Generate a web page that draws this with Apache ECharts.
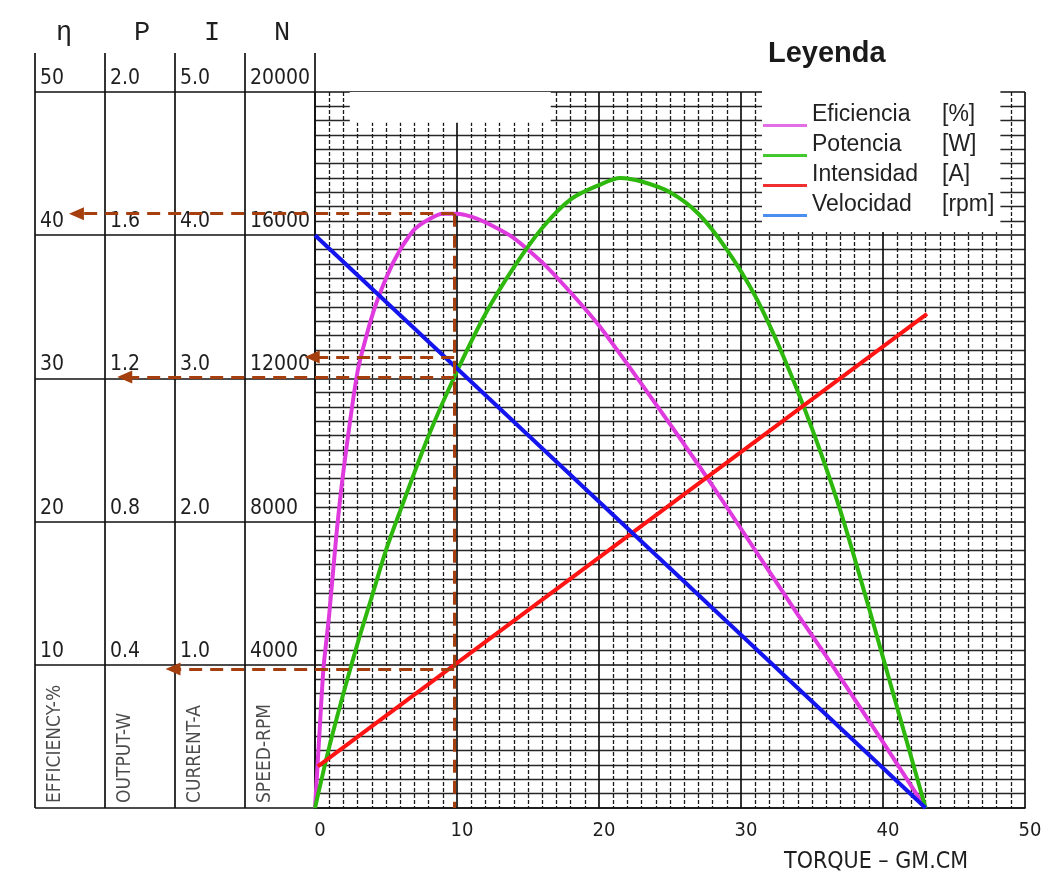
<!DOCTYPE html>
<html>
<head>
<meta charset="utf-8">
<title>Curvas del motor</title>
<script src="https://cdn.jsdelivr.net/npm/echarts@6/dist/echarts.min.js"></script>
<style>
html, body { margin: 0; padding: 0; background: #fff; }
#chart { width: 1053px; height: 877px; }
</style>
</head>
<body>
<div id="chart"></div>
<script>
// par (gm.cm) y lecturas de cada curva
const effTorque = [0, 0.3, 0.6, 1, 1.5, 2, 3, 4, 5, 6, 7, 8, 9, 10, 11, 12, 14, 16, 18, 20, 22, 24, 26, 28, 30, 32, 34, 36, 38, 40, 41.5, 43]
const effValues = [0, 5, 9.8, 13.5, 19, 23.5, 30.5, 34.3, 37.0, 39.0, 40.4, 41.1, 41.5, 41.5, 41.3, 40.9, 39.8, 38.1, 36.0, 33.7, 31.0, 28.2, 25.4, 22.5, 19.5, 16.5, 13.5, 10.6, 7.6, 4.6, 2.3, 0]
const powerTorque = [0, 1, 2, 3, 4, 5, 6, 8, 10, 12, 14, 16, 18, 20, 21.5, 23, 25, 27, 29, 31, 33, 35, 37, 39, 41, 43]
const powerValues = [0, 0.17, 0.32, 0.46, 0.59, 0.72, 0.83, 1.04, 1.22, 1.38, 1.51, 1.62, 1.70, 1.74, 1.76, 1.75, 1.72, 1.66, 1.56, 1.43, 1.26, 1.06, 0.83, 0.56, 0.28, 0]
const currentTorque = [0.2, 43.1]
const currentValues = [0.29, 3.45]
const speedTorque = [0, 43]
const speedValues = [16000, 0]

const seriesNames = ['Eficiencia', 'Potencia', 'Intensidad', 'Velocidad']
const seriesUnits = ['[%]', '[W]', '[A]', '[rpm]']
const columnSymbols = ['η', 'P', 'I', 'N']
const columnUnits = ['EFFICIENCY-%', 'OUTPUT-W', 'CURRENT-A', 'SPEED-RPM']
const effTicks = ['10', '20', '30', '40', '50']
const powerTicks = ['0.4', '0.8', '1.2', '1.6', '2.0']
const currentTicks = ['1.0', '2.0', '3.0', '4.0', '5.0']
const speedTicks = ['4000', '8000', '12000', '16000', '20000']
const torqueTicks = ['0', '10', '20', '30', '40', '50']

// punto de trabajo y flechas hacia la tabla (escala de eficiencia)
const workTorque = 9.8
const guideLevels = [41.5, 31.5, 30.1, 9.7]
const guideTips = [-16.8, -0.2, -13.4, -10.0]

const curveColors = ['#de3ade', '#2eb80e', '#ff1414', '#1414ee']
const legendColors = ['#e46ee4', '#44c830', '#f03030', '#4a8ff0']
const ink = '#1e1e1e'
const tableFont = 'DejaVu Sans Condensed'

function pairs (xs, ys) {
    return xs.map((x, i) => [x, ys[i]])
}

// ejes de la tabla de la izquierda (uno por columna)
function sideAxis (i, max, interval, ticks) {
    return {
        gridIndex: 0,
        type: 'value',
        min: 0,
        max: max,
        interval: interval,
        position: 'left',
        offset: 280 - i * 70,
        name: columnSymbols[i],
        nameLocation: 'end',
        nameGap: 46,
        nameMoveOverlap: false,
        nameTextStyle: {
            fontFamily: 'Liberation Mono',
            fontSize: 27,
            color: ink,
            padding: [0, 0, 0, i === 0 ? 58 : 74]
        },
        axisLine: { show: false, onZero: false },
        axisTick: { show: false },
        splitLine: { show: false },
        axisLabel: {
            inside: true,
            margin: 5,
            showMinLabel: false,
            verticalAlign: 'bottom',
            padding: [0, 0, 3, 0],
            fontFamily: tableFont,
            fontSize: 21,
            color: ink,
            formatter: (v, idx) => ticks[idx - 1] || ''
        }
    }
}

const chart = echarts.init(document.getElementById('chart'))

const effAxis = sideAxis(0, 50, 10, effTicks)
// la escala de eficiencia lleva la cuadricula del grafico
effAxis.splitLine = { show: true, lineStyle: { color: '#111', width: 1.7 } }
effAxis.minorTick = { show: false, splitNumber: 10 }
effAxis.minorSplitLine = { show: true, lineStyle: { color: '#262626', width: 1.3 } }

chart.setOption({
    animation: false,
    backgroundColor: '#fff',
    title: [{
        text: 'Leyenda',
        left: 763,
        top: 34,
        textStyle: { fontFamily: 'Liberation Sans', fontSize: 29, fontWeight: 'bold', color: '#1a1a1a' }
    }, {
        text: 'TORQUE – GM.CM',
        left: 779,
        top: 846,
        textStyle: { fontFamily: 'Liberation Sans Narrow, DejaVu Sans Condensed', fontSize: 23, fontWeight: 'normal', color: ink }
    }],
    legend: {
        orient: 'vertical',
        left: 762,
        top: 88,
        padding: [15, 6, 15, 1],
        backgroundColor: '#fff',
        itemWidth: 44,
        itemHeight: 24,
        itemGap: 6,
        icon: 'path://M0,0L0,0M0,21L44,21L44,24L0,24Z',
        data: seriesNames.map((n, i) => ({ name: n, itemStyle: { color: legendColors[i] } })),
        formatter: name => '{n|' + name + '}{u|' + seriesUnits[seriesNames.indexOf(name)] + '}',
        textStyle: {
            rich: {
                n: { width: 130, fontFamily: 'Liberation Sans', fontSize: 23, lineHeight: 24, color: '#222' },
                u: { fontFamily: 'Liberation Sans', fontSize: 23, lineHeight: 24, color: '#222' }
            }
        }
    },
    grid: [
        { left: 315, right: 28, top: 92, bottom: 69 },
        { left: 35, width: 280, top: 53, bottom: 69 },
        { left: 35, right: 28, top: 92, bottom: 69 }
    ],
    xAxis: [{
        gridIndex: 0,
        type: 'value',
        min: 0,
        max: 50,
        interval: 10,
        axisLine: { show: true, lineStyle: { color: '#111', width: 1.7 } },
        axisTick: { show: false },
        axisLabel: {
            margin: 13,
            padding: [0, 0, 0, 10],
            fontFamily: tableFont,
            fontSize: 20,
            color: ink,
            formatter: (v, idx) => torqueTicks[idx]
        },
        splitLine: { show: true, lineStyle: { color: '#111', width: 1.7 } },
        minorTick: { show: false, splitNumber: 10 },
        minorSplitLine: { show: true, lineStyle: { color: '#1a1a1a', width: 1.3, type: [4, 2] } }
    }, {
        // columnas de la tabla
        gridIndex: 1,
        type: 'value',
        min: 0,
        max: 4,
        interval: 1,
        axisLine: { show: false },
        axisTick: { show: false },
        axisLabel: { show: false },
        splitLine: { show: true, lineStyle: { color: '#111', width: 1.7 } }
    }, {
        // capa de las flechas, misma escala de par
        gridIndex: 2,
        type: 'value',
        min: -19.72,
        max: 50,
        show: false
    }],
    yAxis: [
        effAxis,
        sideAxis(1, 2, 0.4, powerTicks),
        sideAxis(2, 5, 1, currentTicks),
        sideAxis(3, 20000, 4000, speedTicks),
        {
            gridIndex: 1,
            type: 'value',
            min: 0,
            max: 52.72,
            interval: 10,
            axisLine: { show: false },
            axisTick: { show: false },
            axisLabel: { show: false },
            splitLine: { show: true, showMaxLine: false, lineStyle: { color: '#111', width: 1.7 } }
        },
        { gridIndex: 2, type: 'value', min: 0, max: 50, show: false }
    ],
    series: [{
        name: seriesNames[0],
        type: 'line',
        xAxisIndex: 0,
        yAxisIndex: 0,
        smooth: 0.2,
        symbol: 'none',
        color: curveColors[0],
        lineStyle: { width: 4, color: curveColors[0] },
        data: pairs(effTorque, effValues),
        z: 3,
        // hueco sin cuadricula arriba a la izquierda
        markArea: {
            silent: true,
            itemStyle: { color: '#fff', opacity: 1 },
            data: [[{ coord: [2.45, 47.85] }, { coord: [16.6, 50.6] }]]
        }
    }, {
        name: seriesNames[1],
        type: 'line',
        xAxisIndex: 0,
        yAxisIndex: 1,
        smooth: 0.3,
        symbol: 'none',
        color: curveColors[1],
        lineStyle: { width: 4, color: curveColors[1] },
        data: pairs(powerTorque, powerValues),
        z: 3
    }, {
        name: seriesNames[2],
        type: 'line',
        xAxisIndex: 0,
        yAxisIndex: 2,
        symbol: 'none',
        color: curveColors[2],
        lineStyle: { width: 4, color: curveColors[2] },
        data: pairs(currentTorque, currentValues),
        z: 3
    }, {
        name: seriesNames[3],
        type: 'line',
        xAxisIndex: 0,
        yAxisIndex: 3,
        symbol: 'none',
        color: curveColors[3],
        lineStyle: { width: 4, color: curveColors[3] },
        data: pairs(speedTorque, speedValues),
        z: 3
    }, {
        // rotulos verticales de las columnas
        type: 'scatter',
        xAxisIndex: 1,
        yAxisIndex: 4,
        symbolSize: 1,
        silent: true,
        itemStyle: { color: 'rgba(0,0,0,0)' },
        data: columnUnits.map((t, i) => ({ name: t, value: [i + 0.29, 0.35] })),
        label: {
            show: true,
            position: 'inside',
            rotate: 90,
            align: 'left',
            verticalAlign: 'middle',
            fontFamily: tableFont,
            fontSize: 19,
            color: ink,
            formatter: p => p.name
        }
    }, {
        type: 'line',
        xAxisIndex: 2,
        yAxisIndex: 5,
        data: [],
        silent: true,
        z: 5,
        markLine: {
            silent: true,
            symbol: ['none', 'triangle'],
            symbolSize: [13, 15],
            label: { show: false },
            lineStyle: { color: '#a63f0e', width: 3, type: [13, 8] },
            data: guideLevels.map((y, i) => [
                { coord: [workTorque, y] },
                { coord: [guideTips[i], y] }
            ]).concat([[
                { coord: [workTorque, guideLevels[0]], symbol: 'none' },
                { coord: [workTorque, 0], symbol: 'none' }
            ]])
        }
    }]
})
</script>
</body>
</html>
